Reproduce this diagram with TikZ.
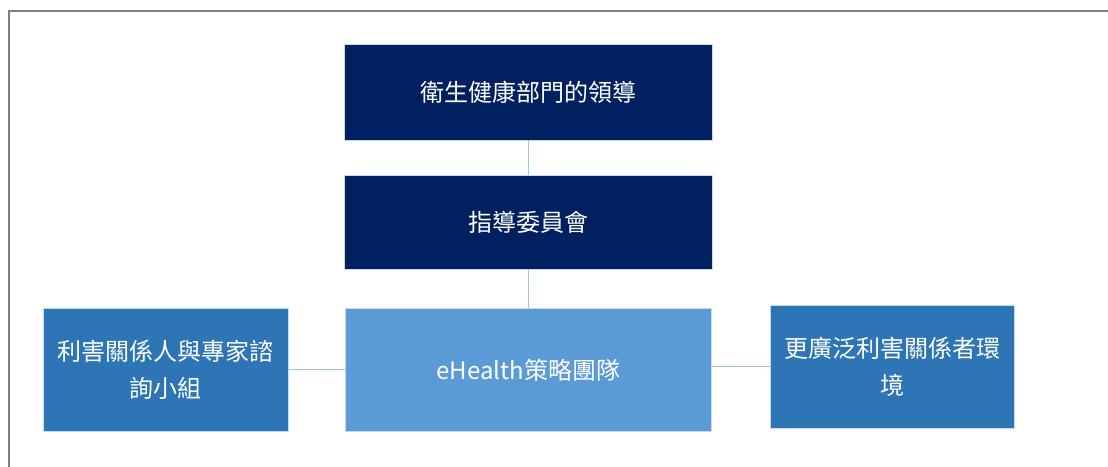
\documentclass[tikz,border=0pt]{standalone}
\usepackage{fontspec}
\setmainfont{Noto Sans CJK TC}
\definecolor{navy}{HTML}{002060}
\definecolor{midblue}{HTML}{2E75B6}
\definecolor{lightblue}{HTML}{5B9BD5}
\definecolor{linkblue}{HTML}{9DC3E6}
\definecolor{edgeblue}{HTML}{C5D9F0}
\definecolor{framegray}{HTML}{808080}
\begin{document}
\begin{tikzpicture}[x=1pt,y=-1pt,
  box/.style={rectangle, draw=edgeblue, line width=0.8pt, text=white,
    inner sep=0pt, align=center, font=\fontsize{24}{37}\selectfont},
  link/.style={draw=linkblue, line width=1.5pt}]
\useasboundingbox (0,0) rectangle (1108,466);
\draw[framegray, line width=1.8pt] (9,470) -- (9,11) -- (1112,11);
\node[box, fill=navy, minimum width=368pt, minimum height=96pt] (lead) at (528.5,92) {衛生健康部門的領導};
\node[box, fill=navy, minimum width=368pt, minimum height=94pt] (steer) at (528.5,222) {指導委員會};
\node[box, fill=lightblue, minimum width=366pt, minimum height=123pt] (team) at (528.5,370) {eHealth策略團隊};
\node[box, fill=midblue, minimum width=245pt, minimum height=123pt] (panel) at (165.5,369.5) {利害關係人與專家諮\\詢小組};
\node[box, fill=midblue, minimum width=244pt, minimum height=123pt] (env) at (892,366.5) {更廣泛利害關係者環\\境};
\draw[link] (lead.south) -- (steer.north);
\draw[link] (steer.south) -- (team.north);
\draw[link] (panel.east) -- (team.west |- panel.east);
\draw[link] (team.east |- env.west) -- (env.west);
\end{tikzpicture}
\end{document}
